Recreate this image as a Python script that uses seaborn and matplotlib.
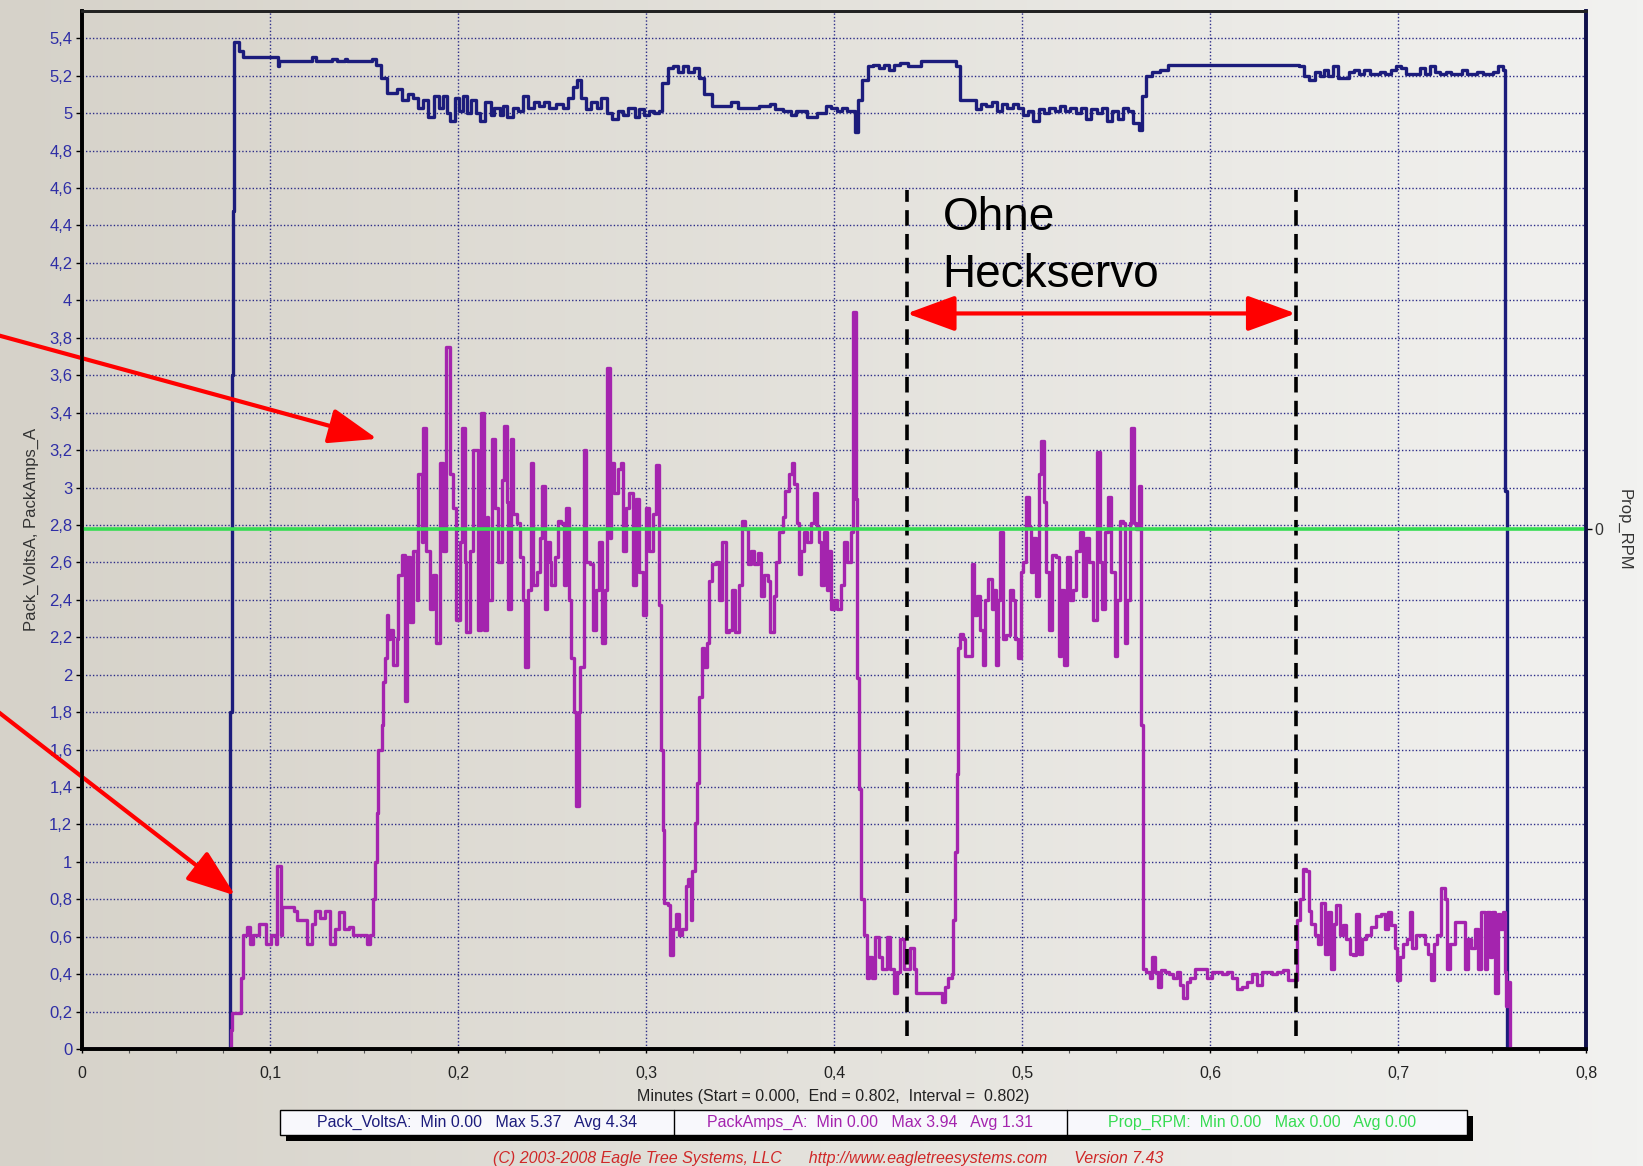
import numpy as np
import pandas as pd
import matplotlib
matplotlib.use("Agg")
import matplotlib.pyplot as plt
import seaborn as sns
from matplotlib.ticker import MultipleLocator, FuncFormatter, FixedLocator
from matplotlib.patches import Rectangle
from matplotlib.colors import LinearSegmentedColormap

# Pack_VoltsA: (minutes, volts)
volts_samples = [
    (0.0000, 0.00), (0.0788, 1.80), (0.0796, 3.60), (0.0803, 4.48), (0.0810, 5.38),
    (0.0835, 5.33), (0.0855, 5.30), (0.1042, 5.25), (0.1050, 5.28), (0.1221, 5.30),
    (0.1243, 5.28), (0.1332, 5.29), (0.1355, 5.28), (0.1397, 5.29), (0.1411, 5.28),
    (0.1542, 5.29), (0.1564, 5.26), (0.1592, 5.19), (0.1620, 5.11), (0.1676, 5.13),
    (0.1704, 5.07), (0.1732, 5.10), (0.1760, 5.08), (0.1788, 5.03), (0.1816, 5.07),
    (0.1838, 4.98), (0.1872, 5.09), (0.1899, 5.03), (0.1922, 5.09), (0.1941, 5.00),
    (0.1955, 4.96), (0.1983, 5.08), (0.2006, 5.01), (0.2025, 5.09), (0.2047, 5.00),
    (0.2067, 5.07), (0.2095, 5.00), (0.2117, 4.96), (0.2145, 5.06), (0.2173, 4.99),
    (0.2193, 5.03), (0.2221, 4.99), (0.2240, 5.04), (0.2263, 4.98), (0.2291, 5.03),
    (0.2318, 5.01), (0.2346, 5.09), (0.2374, 5.03), (0.2402, 5.06), (0.2430, 5.04),
    (0.2458, 5.06), (0.2486, 5.03), (0.2520, 5.05), (0.2556, 5.03), (0.2584, 5.08),
    (0.2612, 5.14), (0.2631, 5.18), (0.2654, 5.08), (0.2682, 5.02), (0.2709, 5.06),
    (0.2737, 5.03), (0.2760, 5.08), (0.2793, 5.00), (0.2821, 4.97), (0.2849, 5.01),
    (0.2877, 4.99), (0.2905, 5.03), (0.2939, 4.98), (0.2961, 5.02), (0.2989, 4.99),
    (0.3017, 5.01), (0.3045, 5.00), (0.3067, 5.01), (0.3087, 5.16), (0.3115, 5.24),
    (0.3142, 5.25), (0.3170, 5.22), (0.3198, 5.25), (0.3226, 5.22), (0.3254, 5.24),
    (0.3282, 5.19), (0.3310, 5.10), (0.3352, 5.04), (0.3450, 5.06), (0.3492, 5.03),
    (0.3603, 5.04), (0.3659, 5.05), (0.3687, 5.02), (0.3729, 5.01), (0.3771, 4.99),
    (0.3799, 5.01), (0.3855, 4.98), (0.3911, 5.00), (0.3958, 5.04), (0.3986, 5.03),
    (0.4014, 5.01), (0.4042, 5.03), (0.4070, 5.01), (0.4112, 4.90), (0.4126, 5.07),
    (0.4148, 5.18), (0.4182, 5.25), (0.4209, 5.26), (0.4237, 5.24), (0.4265, 5.26),
    (0.4293, 5.23), (0.4321, 5.26), (0.4349, 5.27), (0.4391, 5.25), (0.4461, 5.28),
    (0.4651, 5.25), (0.4670, 5.07), (0.4754, 5.02), (0.4782, 5.05), (0.4810, 5.04),
    (0.4838, 5.06), (0.4866, 5.01), (0.4894, 5.05), (0.4922, 5.03), (0.4950, 5.05),
    (0.4978, 5.03), (0.5006, 4.99), (0.5034, 5.01), (0.5061, 4.96), (0.5089, 5.02),
    (0.5117, 5.00), (0.5145, 5.03), (0.5173, 5.01), (0.5201, 5.04), (0.5229, 5.01),
    (0.5257, 5.03), (0.5285, 5.00), (0.5313, 5.03), (0.5341, 4.97), (0.5369, 5.02),
    (0.5397, 5.00), (0.5425, 5.03), (0.5453, 4.96), (0.5480, 5.01), (0.5508, 4.97),
    (0.5536, 5.03), (0.5564, 5.01), (0.5592, 4.95), (0.5620, 4.91), (0.5640, 5.09),
    (0.5662, 5.20), (0.5690, 5.22), (0.5732, 5.23), (0.5774, 5.26), (0.6472, 5.25),
    (0.6500, 5.20), (0.6528, 5.18), (0.6556, 5.22), (0.6584, 5.20), (0.6606, 5.23),
    (0.6626, 5.20), (0.6654, 5.25), (0.6682, 5.19), (0.6737, 5.22), (0.6765, 5.23),
    (0.6793, 5.21), (0.6821, 5.23), (0.6849, 5.21), (0.6905, 5.22), (0.6933, 5.21),
    (0.6961, 5.23), (0.6989, 5.25), (0.7017, 5.24), (0.7045, 5.21), (0.7115, 5.24),
    (0.7142, 5.21), (0.7170, 5.25), (0.7198, 5.22), (0.7226, 5.21), (0.7254, 5.22),
    (0.7282, 5.21), (0.7338, 5.23), (0.7366, 5.21), (0.7422, 5.22), (0.7450, 5.21),
    (0.7506, 5.22), (0.7534, 5.25), (0.7556, 5.23), (0.7567, 2.98), (0.7580, 0.00),
    (0.8000, 0.00),
]

# PackAmps_A: (minutes, amps)
amps_samples = [
    (0.0000, 0.00), (0.0790, 0.10), (0.0800, 0.19), (0.0845, 0.38), (0.0857, 0.61),
    (0.0880, 0.65), (0.0894, 0.56), (0.0907, 0.61), (0.0942, 0.67), (0.0977, 0.56),
    (0.1004, 0.61), (0.1030, 0.56), (0.1039, 0.98), (0.1056, 0.61), (0.1065, 0.76),
    (0.1127, 0.74), (0.1145, 0.69), (0.1198, 0.56), (0.1224, 0.67), (0.1242, 0.74),
    (0.1268, 0.70), (0.1295, 0.74), (0.1321, 0.56), (0.1347, 0.64), (0.1365, 0.73),
    (0.1392, 0.64), (0.1418, 0.65), (0.1444, 0.61), (0.1515, 0.56), (0.1533, 0.61),
    (0.1547, 0.80), (0.1559, 1.00), (0.1568, 1.26), (0.1577, 1.60), (0.1594, 1.73),
    (0.1603, 1.96), (0.1612, 2.09), (0.1621, 2.32), (0.1630, 2.19), (0.1638, 2.24),
    (0.1656, 2.05), (0.1674, 2.19), (0.1683, 2.53), (0.1700, 2.64), (0.1718, 1.86),
    (0.1727, 2.63), (0.1744, 2.28), (0.1762, 2.66), (0.1780, 2.40), (0.1788, 3.07),
    (0.1806, 2.71), (0.1815, 3.32), (0.1832, 2.66), (0.1850, 2.35), (0.1868, 2.53),
    (0.1885, 2.17), (0.1903, 3.13), (0.1921, 2.66), (0.1938, 3.75), (0.1956, 3.07),
    (0.1974, 2.89), (0.1991, 2.29), (0.2009, 2.71), (0.2023, 3.32), (0.2035, 2.60),
    (0.2044, 2.23), (0.2062, 2.66), (0.2079, 3.20), (0.2106, 2.24), (0.2123, 3.40),
    (0.2136, 2.24), (0.2153, 2.84), (0.2162, 2.40), (0.2180, 3.26), (0.2198, 2.89),
    (0.2215, 2.60), (0.2233, 3.04), (0.2245, 3.33), (0.2259, 2.92), (0.2268, 2.35),
    (0.2282, 3.26), (0.2295, 2.86), (0.2312, 2.81), (0.2330, 2.63), (0.2347, 2.40),
    (0.2356, 2.04), (0.2374, 2.45), (0.2386, 3.13), (0.2400, 2.48), (0.2418, 2.55),
    (0.2436, 2.73), (0.2448, 3.01), (0.2462, 2.35), (0.2471, 2.71), (0.2489, 2.60),
    (0.2497, 2.48), (0.2515, 2.63), (0.2533, 2.82), (0.2550, 2.81), (0.2563, 2.48),
    (0.2577, 2.89), (0.2591, 2.40), (0.2603, 2.09), (0.2617, 1.80), (0.2630, 1.30),
    (0.2642, 1.80), (0.2647, 2.04), (0.2668, 3.20), (0.2683, 2.60), (0.2700, 2.59),
    (0.2718, 2.24), (0.2735, 2.45), (0.2750, 2.71), (0.2767, 2.17), (0.2780, 2.45),
    (0.2792, 3.64), (0.2806, 2.73), (0.2815, 3.13), (0.2832, 2.97), (0.2850, 3.10),
    (0.2868, 3.13), (0.2880, 2.66), (0.2894, 2.89), (0.2912, 2.97), (0.2929, 2.48),
    (0.2947, 2.94), (0.2965, 2.55), (0.2982, 2.32), (0.3000, 2.89), (0.3018, 2.66),
    (0.3035, 2.86), (0.3053, 3.12), (0.3071, 2.37), (0.3079, 1.60), (0.3088, 1.17),
    (0.3097, 0.78), (0.3115, 0.77), (0.3127, 0.50), (0.3141, 0.64), (0.3159, 0.72),
    (0.3176, 0.61), (0.3194, 0.64), (0.3212, 0.87), (0.3226, 0.91), (0.3238, 0.69),
    (0.3247, 0.95), (0.3261, 1.21), (0.3273, 1.42), (0.3282, 1.88), (0.3296, 2.14),
    (0.3309, 2.04), (0.3326, 2.17), (0.3335, 2.50), (0.3353, 2.59), (0.3374, 2.60),
    (0.3388, 2.40), (0.3406, 2.71), (0.3423, 2.23), (0.3441, 2.24), (0.3459, 2.45),
    (0.3476, 2.23), (0.3494, 2.48), (0.3511, 2.82), (0.3529, 2.78), (0.3543, 2.59),
    (0.3559, 2.66), (0.3577, 2.59), (0.3594, 2.65), (0.3612, 2.42), (0.3630, 2.53),
    (0.3647, 2.50), (0.3661, 2.23), (0.3679, 2.42), (0.3691, 2.60), (0.3709, 2.76),
    (0.3727, 2.84), (0.3739, 2.98), (0.3762, 3.07), (0.3774, 3.13), (0.3788, 3.02),
    (0.3802, 2.81), (0.3815, 2.54), (0.3827, 2.66), (0.3841, 2.76), (0.3859, 2.71),
    (0.3877, 2.81), (0.3894, 2.97), (0.3908, 2.79), (0.3921, 2.71), (0.3933, 2.48),
    (0.3947, 2.76), (0.3961, 2.45), (0.3974, 2.66), (0.3986, 2.35), (0.4000, 2.40),
    (0.4018, 2.35), (0.4035, 2.48), (0.4053, 2.71), (0.4071, 2.60), (0.4088, 2.76),
    (0.4102, 3.94), (0.4115, 2.94), (0.4123, 1.98), (0.4132, 1.39), (0.4141, 0.80),
    (0.4159, 0.61), (0.4173, 0.38), (0.4185, 0.49), (0.4203, 0.38), (0.4220, 0.60),
    (0.4238, 0.49), (0.4256, 0.43), (0.4282, 0.60), (0.4300, 0.43), (0.4317, 0.30),
    (0.4335, 0.41), (0.4353, 0.59), (0.4370, 0.43), (0.4406, 0.54), (0.4423, 0.43),
    (0.4437, 0.30), (0.4573, 0.25), (0.4591, 0.33), (0.4608, 0.38), (0.4626, 0.40),
    (0.4635, 0.69), (0.4644, 1.05), (0.4653, 1.47), (0.4661, 2.14), (0.4670, 2.22),
    (0.4688, 2.19), (0.4697, 2.10), (0.4732, 2.59), (0.4746, 2.32), (0.4758, 2.42),
    (0.4776, 2.24), (0.4790, 2.05), (0.4802, 2.40), (0.4820, 2.51), (0.4838, 2.35),
    (0.4850, 2.45), (0.4864, 2.05), (0.4873, 2.40), (0.4885, 2.76), (0.4899, 2.19),
    (0.4917, 2.21), (0.4935, 2.45), (0.4950, 2.40), (0.4964, 2.19), (0.4977, 2.09),
    (0.4995, 2.55), (0.5007, 2.60), (0.5021, 2.95), (0.5036, 2.79), (0.5048, 2.55),
    (0.5060, 2.73), (0.5075, 2.42), (0.5089, 3.07), (0.5101, 3.25), (0.5116, 2.92),
    (0.5128, 2.55), (0.5142, 2.24), (0.5160, 2.64), (0.5181, 2.63), (0.5196, 2.10),
    (0.5208, 2.45), (0.5226, 2.05), (0.5238, 2.63), (0.5253, 2.40), (0.5270, 2.45),
    (0.5288, 2.66), (0.5306, 2.76), (0.5324, 2.42), (0.5342, 2.73), (0.5359, 2.60),
    (0.5377, 2.29), (0.5399, 3.19), (0.5413, 2.60), (0.5427, 2.35), (0.5440, 2.76),
    (0.5457, 2.95), (0.5475, 2.55), (0.5493, 2.10), (0.5505, 2.40), (0.5520, 2.82),
    (0.5537, 2.81), (0.5546, 2.17), (0.5559, 2.40), (0.5573, 2.81), (0.5582, 3.32),
    (0.5594, 2.81), (0.5609, 2.78), (0.5623, 3.01), (0.5632, 1.73), (0.5641, 0.43),
    (0.5662, 0.41), (0.5680, 0.38), (0.5694, 0.49), (0.5708, 0.41), (0.5722, 0.33),
    (0.5742, 0.42), (0.5760, 0.41), (0.5783, 0.40), (0.5804, 0.38), (0.5822, 0.41),
    (0.5840, 0.34), (0.5858, 0.27), (0.5875, 0.36), (0.5893, 0.38), (0.5920, 0.43),
    (0.5982, 0.38), (0.6009, 0.41), (0.6062, 0.40), (0.6089, 0.41), (0.6116, 0.38),
    (0.6142, 0.32), (0.6169, 0.33), (0.6196, 0.36), (0.6222, 0.40), (0.6249, 0.34),
    (0.6276, 0.41), (0.6329, 0.40), (0.6356, 0.41), (0.6389, 0.42), (0.6415, 0.37),
    (0.6463, 0.69), (0.6477, 0.80), (0.6495, 0.96), (0.6513, 0.95), (0.6527, 0.74),
    (0.6539, 0.67), (0.6557, 0.61), (0.6575, 0.56), (0.6592, 0.78), (0.6610, 0.51),
    (0.6628, 0.73), (0.6642, 0.43), (0.6658, 0.67), (0.6672, 0.77), (0.6690, 0.61),
    (0.6708, 0.66), (0.6725, 0.59), (0.6743, 0.51), (0.6761, 0.50), (0.6778, 0.72),
    (0.6793, 0.51), (0.6810, 0.59), (0.6832, 0.61), (0.6858, 0.65), (0.6885, 0.71),
    (0.6911, 0.72), (0.6929, 0.64), (0.6947, 0.73), (0.6965, 0.66), (0.6982, 0.54),
    (0.6995, 0.37), (0.7009, 0.49), (0.7027, 0.56), (0.7048, 0.59), (0.7062, 0.73),
    (0.7076, 0.54), (0.7097, 0.61), (0.7142, 0.56), (0.7159, 0.51), (0.7177, 0.37),
    (0.7190, 0.56), (0.7207, 0.61), (0.7227, 0.86), (0.7248, 0.80), (0.7261, 0.43),
    (0.7278, 0.56), (0.7301, 0.68), (0.7354, 0.43), (0.7372, 0.59), (0.7390, 0.54),
    (0.7408, 0.64), (0.7425, 0.43), (0.7443, 0.73), (0.7461, 0.43), (0.7473, 0.73),
    (0.7487, 0.49), (0.7502, 0.73), (0.7514, 0.30), (0.7532, 0.72), (0.7544, 0.64),
    (0.7558, 0.73), (0.7567, 0.41), (0.7576, 0.23), (0.7585, 0.36), (0.7594, 0.00),
    (0.8000, 0.00),
]

# Prop_RPM stayed at 0 for the whole log
rpm_minutes = [0.0, 0.8]
rpm_values = [0.0, 0.0]

legend_texts = [
    "Pack_VoltsA:  Min 0.00   Max 5.37   Avg 4.34",
    "PackAmps_A:  Min 0.00   Max 3.94   Avg 1.31",
    "Prop_RPM:  Min 0.00   Max 0.00   Avg 0.00",
]
xlabel_text = "Minutes (Start = 0.000,  End = 0.802,  Interval =  0.802)"
footer_text = "(C) 2003-2008 Eagle Tree Systems, LLC      http://www.eagletreesystems.com      Version 7.43"

# marked interval "Ohne Heckservo"
region_start = 0.4387
region_end = 0.6456

navy = "#1c1c7c"
purple = "#a424ae"
green = "#36dc52"

sns.set_theme(style="white")
plt.rcParams["font.family"] = ["Liberation Sans", "DejaVu Sans"]

W, H = 1643, 1166
fig = plt.figure(figsize=(W / 100, H / 100), dpi=100)

# greyish background, lighter to the right
bg = fig.add_axes([0, 0, 1, 1], zorder=-10)
cmap = LinearSegmentedColormap.from_list("bg", ["#d6d2c9", "#e4e2dc", "#f2f2f0"])
bg.imshow(np.linspace(0, 1, 256).reshape(1, -1), aspect="auto", cmap=cmap,
          extent=[0, 1, 0, 1])
bg.axis("off")

ax = fig.add_axes([82 / W, 1 - 1049 / H, 1504 / W, 1038 / H])
ax.set_facecolor("none")

volts = pd.DataFrame(volts_samples, columns=["minutes", "value"])
amps = pd.DataFrame(amps_samples, columns=["minutes", "value"])
rpm = pd.DataFrame({"minutes": rpm_minutes, "rpm": rpm_values})

sns.lineplot(data=volts, x="minutes", y="value", ax=ax, color=navy, lw=2.4,
             drawstyle="steps-post", estimator=None, errorbar=None, zorder=3)
sns.lineplot(data=amps, x="minutes", y="value", ax=ax, color=purple, lw=2.4,
             drawstyle="steps-post", estimator=None, errorbar=None, zorder=4)

ax.set_xlim(0, 0.8)
ax.set_ylim(0, 5.546)
ax.set_xlabel("")
ax.set_ylabel("")
ax.xaxis.set_major_locator(MultipleLocator(0.1))
ax.xaxis.set_minor_locator(MultipleLocator(0.025))
ax.yaxis.set_major_locator(MultipleLocator(0.2))
comma = FuncFormatter(lambda v, p: f"{round(v, 2):g}".replace(".", ","))
ax.xaxis.set_major_formatter(comma)
ax.yaxis.set_major_formatter(comma)
ax.grid(True, which="major", color="#2c2c88", lw=1.0, linestyle=(0, (1, 1.5)))
ax.tick_params(axis="y", left=True, direction="out", length=4, width=1,
               color="black", labelcolor="#2e2ea6", labelsize=12, pad=3)
ax.tick_params(axis="x", which="major", bottom=True, direction="out", length=3,
               width=1, color="black", labelcolor="#222222", labelsize=11.5, pad=9)
ax.tick_params(axis="x", which="minor", bottom=True, direction="out", length=3,
               width=0.8, color="#555555")

# Prop_RPM on its own right-hand axis
ax2 = ax.twinx()
sns.lineplot(data=rpm, x="minutes", y="rpm", ax=ax2, color=green, lw=2.6,
             estimator=None, errorbar=None)
ax2.set_ylim(-1.0, 0.998)
ax2.set_ylabel("")
ax2.yaxis.set_major_locator(FixedLocator([0]))
ax2.tick_params(axis="y", right=True, direction="out", length=4, width=1,
                color="black", labelcolor="#333333", labelsize=11.5, pad=2)

for a in (ax, ax2):
    a.spines["left"].set_color("black")
    a.spines["left"].set_linewidth(2.6)
    a.spines["bottom"].set_color("black")
    a.spines["bottom"].set_linewidth(2.6)
    a.spines["top"].set_color("#222222")
    a.spines["top"].set_linewidth(2.0)
    a.spines["right"].set_color("#10104a")
    a.spines["right"].set_linewidth(2.6)

# annotations
ax.vlines([region_start, region_end], 0.07, 4.59, colors="black", lw=2.6,
          linestyles=[(0, (4.3, 2.3))], zorder=6)
ax.annotate("", xy=(region_start, 3.93), xytext=(region_end, 3.93),
            arrowprops=dict(arrowstyle="<|-|>,head_length=1.5,head_width=0.55",
                            color="red", lw=3, mutation_scale=20,
                            shrinkA=0, shrinkB=0), zorder=7)
ax.text(0.4577, 4.375, "Ohne", fontsize=33, color="black", ha="left",
        va="baseline", zorder=7)
ax.text(0.4577, 4.07, "Heckservo", fontsize=33, color="black", ha="left",
        va="baseline", zorder=7)
for tip, tail in [((0.157, 3.26), (-0.047, 3.82)), ((0.0815, 0.82), (-0.047, 1.82))]:
    ax.annotate("", xy=tip, xytext=tail, annotation_clip=False,
                arrowprops=dict(arrowstyle="-|>,head_length=1.5,head_width=0.55",
                                color="red", lw=3, mutation_scale=20,
                                shrinkA=0, shrinkB=0), zorder=8)

# axis titles
fig.text(31 / W, 0.5456, "Pack_VoltsA, PackAmps_A", rotation=90, ha="center",
         va="center", fontsize=12, color="#333333")
fig.text(1624 / W, 0.5456, "Prop_RPM", rotation=-90, ha="center", va="center",
         fontsize=12, color="#333333")
fig.text(833 / W, 1 - 1096 / H, xlabel_text, ha="center", va="center",
         fontsize=11.5, color="#222222")

# stats box with shadow
bx0, bx1, by0, by1 = 280, 1467, 1110, 1135
fig.add_artist(Rectangle(((bx0 + 6) / W, 1 - (by1 + 6) / H), (bx1 - bx0) / W,
                         (by1 - by0) / H, transform=fig.transFigure,
                         facecolor="black", edgecolor="none"))
fig.add_artist(Rectangle((bx0 / W, 1 - by1 / H), (bx1 - bx0) / W, (by1 - by0) / H,
                         transform=fig.transFigure, facecolor="#f8f8fc",
                         edgecolor="black", lw=1))
for xd in (674, 1067):
    fig.add_artist(plt.Line2D([xd / W, xd / W], [1 - by1 / H, 1 - by0 / H],
                              transform=fig.transFigure, color="black", lw=1))
for xc, txt, col in zip([477, 870, 1262], legend_texts, [navy, purple, green]):
    fig.text(xc / W, 1 - 1122.5 / H, txt, ha="center", va="center",
             fontsize=11.5, color=col)

fig.text(828 / W, 1 - 1158 / H, footer_text, ha="center", va="center",
         fontsize=11.5, color="#d02828", style="italic")

fig.savefig("out.png", dpi=100)
